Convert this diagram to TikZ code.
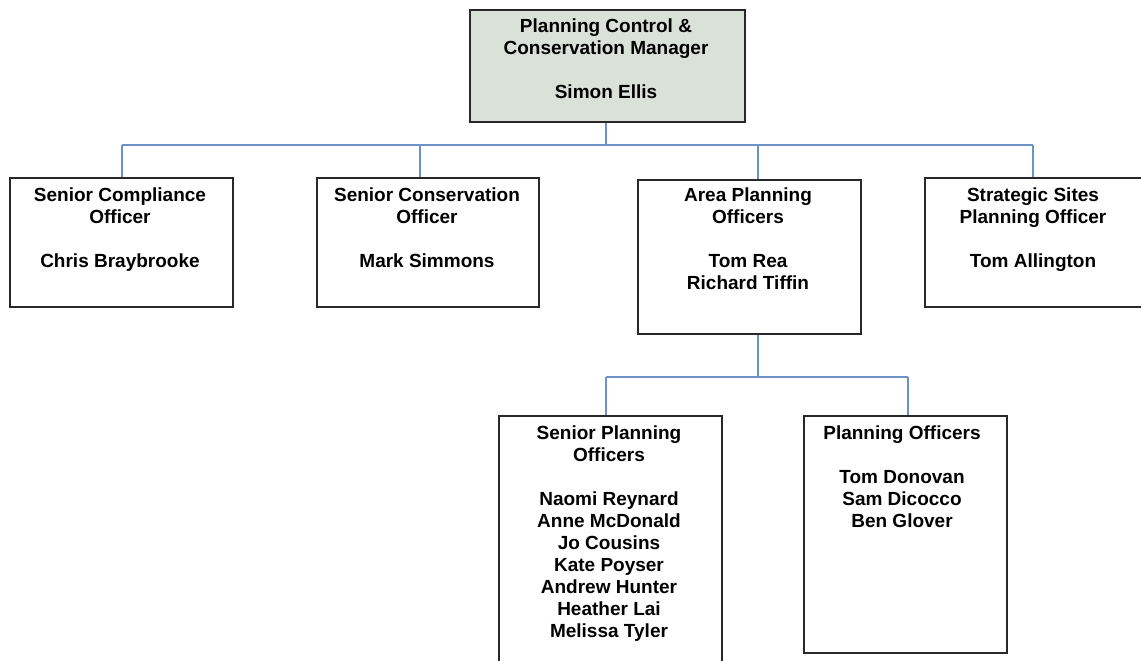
\documentclass[tikz,border=0pt]{standalone}
\usepackage{fontspec}
\setmainfont{Liberation Sans}
\usetikzlibrary{calc}

\definecolor{headfill}{RGB}{217,225,217}
\definecolor{boxline}{RGB}{40,40,40}
\definecolor{linkblue}{RGB}{110,145,198}

% centred block of lines whose baseline is the first line
\newcommand{\roletext}[1]{\parbox[t]{240pt}{\centering\fontsize{19pt}{22pt}\selectfont\bfseries #1}}

\begin{document}
\begin{tikzpicture}[x=1pt,y=-1pt,
  box/.style={draw=boxline, line width=1.8pt, inner sep=0pt, anchor=north west},
  head/.style={box, fill=headfill},
  roleline/.style={inner sep=0pt, anchor=base},
  link/.style={draw=linkblue, line width=1.5pt}]
\useasboundingbox (0,0) rectangle (1141,661);
\clip (0,0) rectangle (1141,661);

% boxes
\node[head, minimum width=275pt, minimum height=112pt] (mgr) at (469,9) {};
\node[box, minimum width=223pt, minimum height=129pt] (comp) at (9,177) {};
\node[box, minimum width=222pt, minimum height=129pt] (cons) at (316,177) {};
\node[box, minimum width=223pt, minimum height=154pt] (area) at (637,179) {};
\node[box, minimum width=226pt, minimum height=129pt] (strat) at (924,177) {};
\node[box, minimum width=223pt, minimum height=265pt] (snr) at (498,415) {};
\node[box, minimum width=203pt, minimum height=237pt] (plan) at (803,415) {};

% texts
\node[roleline] (mgrT) at (606,33) {\roletext{Planning Control \&\\Conservation Manager\\[22pt]Simon Ellis}};
\node[roleline] (compT) at (120,201) {\roletext{Senior Compliance\\Officer\\[22pt]Chris Braybrooke}};
\node[roleline] (consT) at (427,201) {\roletext{Senior Conservation\\Officer\\[22pt]Mark Simmons}};
\node[roleline] (areaT) at (748,201) {\roletext{Area Planning\\Officers\\[22pt]Tom Rea\\Richard Tiffin}};
\node[roleline] (stratT) at (1033,201) {\roletext{Strategic Sites\\Planning Officer\\[22pt]Tom Allington}};
\node[roleline] (snrT) at (609,439) {\roletext{Senior Planning\\Officers\\[22pt]Naomi Reynard\\Anne McDonald\\Jo Cousins\\Kate Poyser\\Andrew Hunter\\Heather Lai\\Melissa Tyler}};
\node[roleline] (planT) at (902,439) {\roletext{Planning Officers\\[22pt]Tom Donovan\\Sam Dicocco\\Ben Glover}};

% first-level connectors
\coordinate (j0) at (606,145);
\coordinate (j1) at (122,145);
\coordinate (j2) at (420,145);
\coordinate (j3) at (758,145);
\coordinate (j4) at (1033,145);
\draw[link] (j0 |- mgr.south) -- (j0);
\draw[link] (j1) -- (j4);
\draw[link] (j1) -- (j1 |- comp.north);
\draw[link] (j2) -- (j2 |- cons.north);
\draw[link] (j3) -- (j3 |- area.north);
\draw[link] (j4) -- (j4 |- strat.north);

% second-level connectors
\coordinate (k0) at (758,377);
\coordinate (k1) at (606,377);
\coordinate (k2) at (908,377);
\draw[link] (k0 |- area.south) -- (k0);
\draw[link] (k1) -- (k2);
\draw[link] (k1) -- (k1 |- snr.north);
\draw[link] (k2) -- (k2 |- plan.north);
\end{tikzpicture}
\end{document}
